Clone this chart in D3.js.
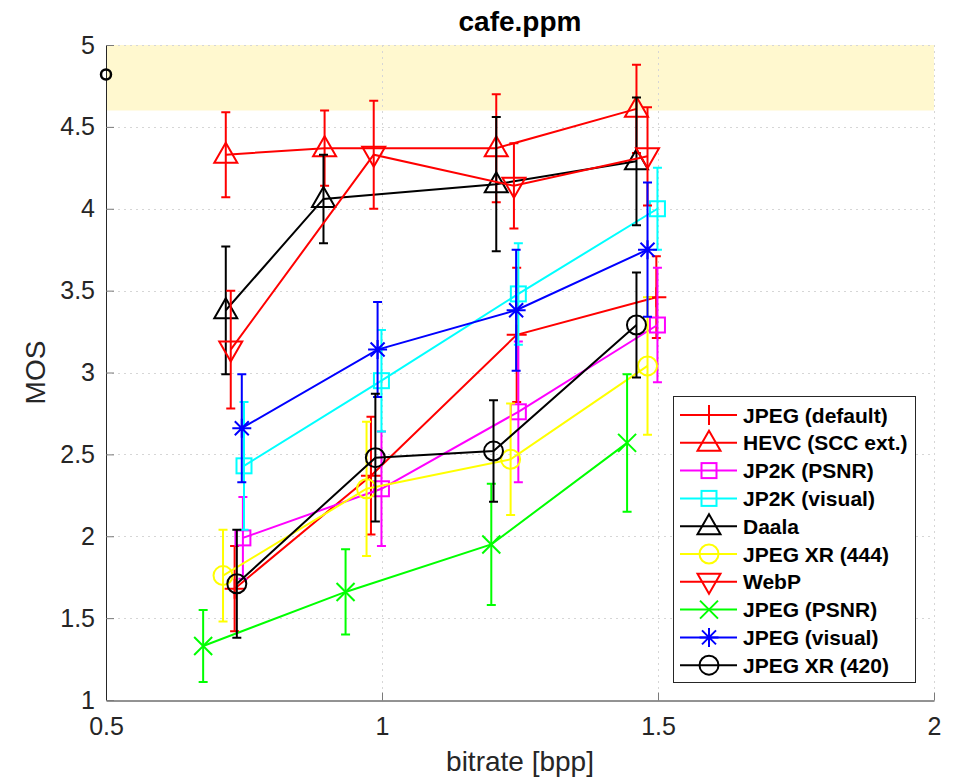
<!DOCTYPE html>
<html>
<head>
<meta charset="utf-8">
<script src="https://cdn.jsdelivr.net/npm/d3@7"></script>
<style>
  body { margin: 0; background: #fff; }
  text { font-family: "Liberation Sans", Arial, Helvetica, sans-serif; }
</style>
</head>
<body>
<div id="chart"></div>
<script>
// ######################## Data #############################################
const seriesNames = ["JPEG (default)", "HEVC (SCC ext.)", "JP2K (PSNR)", "JP2K (visual)", "Daala",
    "JPEG XR (444)", "WebP", "JPEG (PSNR)", "JPEG (visual)", "JPEG XR (420)"];

// bitrate [bpp] per series
const seriesX = [
    [0.733, 0.980, 1.244, 1.497],
    [0.717, 0.896, 1.207, 1.461],
    [0.748, 0.999, 1.247, 1.499],
    [0.750, 0.999, 1.247, 1.499],
    [0.717, 0.894, 1.207, 1.461],
    [0.712, 0.972, 1.233, 1.481],
    [0.726, 0.985, 1.239, 1.481],
    [0.676, 0.934, 1.198, 1.444],
    [0.746, 0.992, 1.243, 1.481],
    [0.737, 0.988, 1.202, 1.461]
];
// MOS per series
const seriesY = [
    [1.68, 2.37, 3.23, 3.46],
    [4.33, 4.37, 4.37, 4.61],
    [1.99, 2.29, 2.76, 3.29],
    [2.43, 2.95, 3.48, 4.00],
    [3.38, 4.06, 4.15, 4.29],
    [1.76, 2.29, 2.47, 3.04],
    [3.14, 4.33, 4.14, 4.32],
    [1.33, 1.66, 1.95, 2.57],
    [2.66, 3.14, 3.38, 3.75],
    [1.71, 2.48, 2.52, 3.29]
];
// half width of confidence interval
const seriesErr = [
    [0.26, 0.36, 0.41, 0.25],
    [0.26, 0.23, 0.33, 0.27],
    [0.25, 0.35, 0.43, 0.35],
    [0.39, 0.31, 0.31, 0.25],
    [0.39, 0.27, 0.41, 0.39],
    [0.28, 0.41, 0.34, 0.42],
    [0.36, 0.33, 0.26, 0.30],
    [0.22, 0.26, 0.37, 0.42],
    [0.33, 0.29, 0.37, 0.41],
    [0.33, 0.39, 0.31, 0.32]
];

const referenceX = [0.5];
const referenceY = [4.82];
const bandRange = [4.6, 5];

const xTicks = [0.5, 1, 1.5, 2];
const yTicks = [1, 1.5, 2, 2.5, 3, 3.5, 4, 4.5, 5];

// styles
const seriesColors = ["#ff0000", "#ff0000", "#ff00ff", "#00ffff", "#000000",
    "#ffff00", "#ff0000", "#00ff00", "#0000ff", "#000000"];
const seriesMarkers = ["+", "^", "s", "s", "^", "o", "v", "x", "*", "o"];

// ######################## Layout ###########################################
const W = 955, H = 781;
const plot = { left: 106, right: 934, top: 45, bottom: 700 };
const axisColor = "#262626";

const svg = d3.select("#chart").append("svg")
    .attr("width", W)
    .attr("height", H);

const x = d3.scaleLinear().domain([0.5, 2]).range([plot.left, plot.right]);
const y = d3.scaleLinear().domain([1, 5]).range([plot.bottom, plot.top]);

// highlighted band
svg.append("rect")
    .attr("x", x(0.5))
    .attr("y", y(bandRange[1]))
    .attr("width", x(2) - x(0.5))
    .attr("height", y(bandRange[0]) - y(bandRange[1]))
    .attr("fill", "#fff8cf");

// grid
const grid = svg.append("g")
    .attr("stroke", "#d6d6d6")
    .attr("stroke-width", 1)
    .attr("stroke-dasharray", "2,4");
grid.selectAll("line.gx")
    .data(xTicks.slice(1))
    .join("line")
    .attr("x1", d => Math.round(x(d)) + 0.5).attr("x2", d => Math.round(x(d)) + 0.5)
    .attr("y1", plot.top).attr("y2", plot.bottom);
grid.selectAll("line.gy")
    .data(yTicks.slice(1))
    .join("line")
    .attr("class", "gy")
    .attr("x1", plot.left).attr("x2", plot.right)
    .attr("y1", d => Math.round(y(d)) + 0.5).attr("y2", d => Math.round(y(d)) + 0.5);

// axes
const xAxis = svg.append("g")
    .attr("transform", `translate(0,${plot.bottom + 0.5})`)
    .call(d3.axisBottom(x).tickValues(xTicks).tickSizeInner(-8).tickSizeOuter(0)
        .tickPadding(17).tickFormat(d3.format("")));
const yAxis = svg.append("g")
    .attr("transform", `translate(${plot.left},0)`)
    .call(d3.axisLeft(y).tickValues(yTicks).tickSizeInner(-8).tickSizeOuter(0)
        .tickPadding(11).tickFormat(d3.format("")));

[xAxis, yAxis].forEach(a => {
    a.select(".domain").attr("stroke", axisColor);
    a.selectAll(".tick line").attr("stroke", "#7a7a7a");
    a.selectAll(".tick text")
        .attr("fill", axisColor)
        .style("font-size", "25px")
        .style("font-family", "'Liberation Sans', Arial, sans-serif");
});

// titles
svg.append("text")
    .attr("x", (plot.left + plot.right) / 2)
    .attr("y", 31)
    .attr("text-anchor", "middle")
    .attr("font-weight", "bold")
    .attr("font-size", 28)
    .attr("fill", "#000")
    .text("cafe.ppm");

svg.append("text")
    .attr("x", (plot.left + plot.right) / 2)
    .attr("y", 771)
    .attr("text-anchor", "middle")
    .attr("font-size", 28)
    .attr("fill", axisColor)
    .text("bitrate [bpp]");

svg.append("text")
    .attr("transform", `translate(45,${(plot.top + plot.bottom) / 2}) rotate(-90)`)
    .attr("text-anchor", "middle")
    .attr("font-size", 28)
    .attr("fill", axisColor)
    .text("MOS");

// ######################## Markers ##########################################
function drawMarker(g, type, cx, cy, color) {
    const m = g.append("g")
        .attr("transform", `translate(${cx},${cy})`)
        .attr("stroke", color)
        .attr("stroke-width", 2)
        .attr("fill", "none");
    switch (type) {
        case "+":
            m.append("path").attr("d", "M-10,0H10M0,-10V10");
            break;
        case "x":
            m.append("path").attr("d", "M-9,-9L9,9M-9,9L9,-9");
            break;
        case "*":
            m.append("path").attr("d", "M-9.5,0H9.5M0,-9.5V9.5M-7,-7L7,7M-7,7L7,-7");
            break;
        case "s":
            m.append("rect").attr("x", -7.5).attr("y", -7.5).attr("width", 15).attr("height", 15);
            break;
        case "o":
            m.append("circle").attr("r", 9.5);
            break;
        case "^":
            m.append("path").attr("d", "M0,-12L11.5,8L-11.5,8Z");
            break;
        case "v":
            m.append("path").attr("d", "M0,12L11.5,-8L-11.5,-8Z");
            break;
    }
}

// ######################## Series ###########################################
const line = d3.line().x(d => x(d.x)).y(d => y(d.y));

seriesNames.forEach((name, i) => {
    const pts = seriesX[i].map((xv, j) => ({ x: xv, y: seriesY[i][j], e: seriesErr[i][j] }));
    const color = seriesColors[i];
    const g = svg.append("g");

    g.append("path")
        .datum(pts)
        .attr("fill", "none")
        .attr("stroke", color)
        .attr("stroke-width", 2)
        .attr("d", line);

    // error bars
    g.selectAll("path.err")
        .data(pts)
        .join("path")
        .attr("class", "err")
        .attr("fill", "none")
        .attr("stroke", color)
        .attr("stroke-width", 2)
        .attr("d", d => {
            const px = x(d.x), y0 = y(d.y - d.e), y1 = y(d.y + d.e);
            return `M${px},${y0}V${y1}M${px - 4.5},${y0}H${px + 4.5}M${px - 4.5},${y1}H${px + 4.5}`;
        });

    pts.forEach(d => drawMarker(g, seriesMarkers[i], x(d.x), y(d.y), color));
});

// reference point
referenceX.forEach((xv, i) => {
    svg.append("circle")
        .attr("cx", x(xv))
        .attr("cy", y(referenceY[i]))
        .attr("r", 5)
        .attr("fill", "none")
        .attr("stroke", "#000")
        .attr("stroke-width", 2.5);
});

// ######################## Legend ###########################################
const legend = svg.append("g");
const lg = { x: 673, y: 396, w: 242, h: 286, row0: 415, step: 27.8 };
legend.append("rect")
    .attr("x", lg.x + 0.5).attr("y", lg.y + 0.5)
    .attr("width", lg.w).attr("height", lg.h)
    .attr("fill", "#fff")
    .attr("stroke", axisColor)
    .attr("stroke-width", 1);

seriesNames.forEach((name, i) => {
    const cy = lg.row0 + i * lg.step;
    legend.append("line")
        .attr("x1", 680).attr("x2", 737)
        .attr("y1", cy).attr("y2", cy)
        .attr("stroke", seriesColors[i])
        .attr("stroke-width", 2);
    drawMarker(legend, seriesMarkers[i], 709, cy, seriesColors[i]);
    legend.append("text")
        .attr("x", 743)
        .attr("y", cy)
        .attr("dy", "0.36em")
        .attr("font-size", 21)
        .attr("font-weight", "bold")
        .attr("fill", "#000")
        .text(name);
});
</script>
</body>
</html>
